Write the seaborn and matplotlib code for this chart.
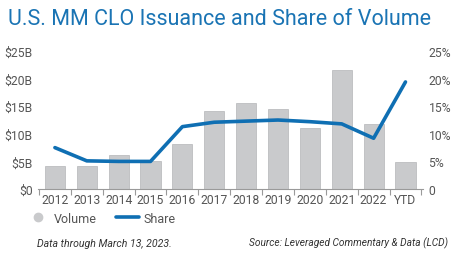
import numpy as np
import pandas as pd
import matplotlib
matplotlib.use("Agg")
import matplotlib.pyplot as plt
from matplotlib.lines import Line2D
import seaborn as sns

years = ["2012", "2013", "2014", "2015", "2016", "2017", "2018",
         "2019", "2020", "2021", "2022", "YTD"]
volume_b = [4.1, 4.2, 6.1, 5.1, 8.2, 14.2, 15.6, 14.5, 11.1, 21.6, 11.8, 4.9]
share_pct = [7.5, 5.1, 5.0, 5.0, 11.3, 12.1, 12.3, 12.5, 12.2, 11.8, 9.2, 19.4]

left_ticks = [0, 5, 10, 15, 20, 25]
left_labels = ["$0", "$5B", "$10B", "$15B", "$20B", "$25B"]
right_labels = ["0", "5%", "10%", "15%", "20%", "25%"]

df = pd.DataFrame({"year": years, "volume": volume_b, "share": share_pct})

sns.set_theme(style="white")
plt.rcParams["font.family"] = ["Roboto", "DejaVu Sans"]

BLUE = "#0f6fb3"
GREY_BAR = "#c9cacc"
TXT = "#555555"

fig = plt.figure(figsize=(4.62, 2.55), dpi=100)
ax = fig.add_axes([0.0823, 0.2549, 0.8333, 0.541])

sns.barplot(data=df, x="year", y="volume", color=GREY_BAR, width=0.63,
            saturation=1, edgecolor="#b5b6b8", linewidth=0.5, ax=ax)
ax.set_ylim(0, 25)
ax.set_xlim(-0.53, 11.55)
ax.set_yticks(left_ticks)
ax.set_yticklabels(left_labels)
ax.set_xlabel("")
ax.set_ylabel("")

ax2 = ax.twinx()
sns.lineplot(data=df, x="year", y="share", color=BLUE, linewidth=2.6,
             sort=False, ax=ax2)
ax2.set_ylim(0, 25)
ax2.set_yticks(left_ticks)
ax2.set_yticklabels(right_labels)
ax2.set_ylabel("")
ax2.set_xlabel("")

for a in (ax, ax2):
    for s in ["top", "left", "right", "bottom"]:
        a.spines[s].set_visible(False)
ax.spines["bottom"].set_visible(True)
ax.spines["bottom"].set_color("#9a9a9a")
ax.spines["bottom"].set_linewidth(0.8)

ax.tick_params(axis="y", length=0, pad=4, labelsize=8.7, labelcolor=TXT)
ax2.tick_params(axis="y", length=0, pad=4, labelsize=8.7, labelcolor=TXT)
ax.tick_params(axis="x", which="major", length=0, pad=3, labelsize=8.7,
               labelcolor=TXT)
ax.set_xticks(np.arange(-0.5, 12, 1), minor=True)
ax.tick_params(axis="x", which="minor", length=4, width=0.8,
               color="#9a9a9a", bottom=True)

fig.text(0.017, 0.925, "U.S. MM CLO Issuance and Share of Volume",
         color="#1a74b4", fontsize=15.5, va="center", ha="left")

handles = [
    Line2D([], [], marker="o", linestyle="none", markersize=6,
           markerfacecolor=GREY_BAR, markeredgecolor=GREY_BAR),
    Line2D([], [], color=BLUE, linewidth=2.6),
]
fig.legend(handles, ["Volume", "Share"], loc="center left",
           bbox_to_anchor=(0.058, 0.14), ncol=2, frameon=False,
           fontsize=9, labelcolor=TXT, handlelength=1.8,
           columnspacing=1.5, handletextpad=0.4, borderpad=0,
           borderaxespad=0)

fig.text(0.08, 0.045, "Data through March 13, 2023.", fontsize=7.6,
         style="italic", color="#333333", va="center")
fig.text(0.97, 0.045, "Source: Leveraged Commentary & Data (LCD)",
         fontsize=7.3, style="italic", color="#333333", va="center",
         ha="right")

fig.savefig("out.png", dpi=100)
